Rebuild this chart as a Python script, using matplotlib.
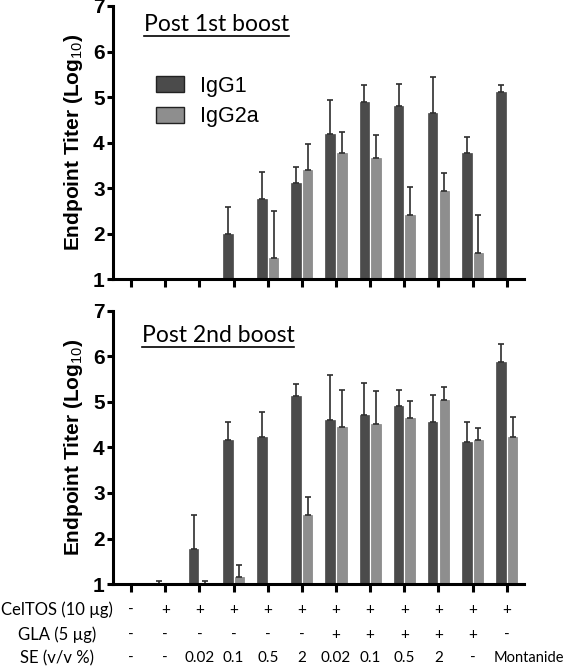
import numpy as np
import matplotlib
matplotlib.use("Agg")
import matplotlib.pyplot as plt
from matplotlib.lines import Line2D

# data (log10 endpoint titer, mean and upper error)
groups = list(range(12))
post1_igg1 = [1, 1, 1, 2.00, 2.76, 3.11, 4.19, 4.90, 4.81, 4.64, 3.78, 5.10]
post1_igg1_err = [0, 0, 0, 0.59, 0.59, 0.36, 0.74, 0.36, 0.47, 0.79, 0.34, 0.16]
post1_igg2a = [1, 1, 1, 1, 1.46, 3.40, 3.76, 3.67, 2.41, 2.94, 1.58, 1]
post1_igg2a_err = [0, 0, 0, 0, 1.04, 0.57, 0.48, 0.49, 0.62, 0.38, 0.83, 0]

post2_igg1 = [1, 1.0, 1.78, 4.17, 4.22, 5.13, 4.60, 4.71, 4.92, 4.55, 4.11, 5.88]
post2_igg1_err = [0, 0.07, 0.74, 0.40, 0.57, 0.26, 1.00, 0.71, 0.35, 0.60, 0.46, 0.40]
post2_igg2a = [1, 1, 1.0, 1.16, 1, 2.52, 4.45, 4.52, 4.64, 5.04, 4.17, 4.24]
post2_igg2a_err = [0, 0, 0.07, 0.26, 0, 0.39, 0.82, 0.73, 0.38, 0.28, 0.26, 0.44]

row_names = ["CelTOS (10 \u00b5g)", "GLA (5 \u00b5g)", "SE (v/v %)"]
celtos = ["-", "+", "+", "+", "+", "+", "+", "+", "+", "+", "+", "+"]
gla = ["-", "-", "-", "-", "-", "-", "+", "+", "+", "+", "+", "-"]
se = ["-", "-", "0.02", "0.1", "0.5", "2", "0.02", "0.1", "0.5", "2", "-", "Montanide"]

DARK = "#4b4b4b"
LIGHT = "#8e8e8e"
W = 0.28
OFF = 0.17

plt.rcParams["mathtext.fontset"] = "custom"
plt.rcParams["mathtext.rm"] = "Liberation Sans"
plt.rcParams["mathtext.bf"] = "Liberation Sans:bold"

fig = plt.figure(figsize=(5.66, 6.66), dpi=100)
ax1 = fig.add_axes([0.1996, 0.581, 0.726, 0.41])
ax2 = fig.add_axes([0.1996, 0.1231, 0.726, 0.41])


def draw_panel(ax, g1, e1, g2, e2):
  x = np.array(groups, dtype=float)
  g1 = np.array(g1); g2 = np.array(g2)
  e1 = np.array(e1); e2 = np.array(e2)
  ax.bar(x - OFF, g1 - 1, W, bottom=1, color=DARK, edgecolor="#333333", linewidth=0.4, label="IgG1")
  ax.bar(x + OFF, g2 - 1, W, bottom=1, color=LIGHT, edgecolor="#6e6e6e", linewidth=0.4, label="IgG2a")
  for xs, m, e in [(x - OFF, g1, e1), (x + OFF, g2, e2)]:
    k = e > 0
    ax.errorbar(xs[k], m[k], yerr=[np.zeros(k.sum()), e[k]], fmt="none",
                ecolor="#2e2e2e", elinewidth=1.2, capsize=2.5, capthick=1.2)
  ax.set_xlim(-0.53, 11.5)
  ax.set_ylim(1, 7)
  ax.set_yticks(range(1, 8))
  ax.set_xticks(groups)
  ax.set_xticklabels([])
  for s in ["top", "right"]:
    ax.spines[s].set_visible(False)
  for s in ["left", "bottom"]:
    ax.spines[s].set_linewidth(2.2)
  ax.tick_params(axis="x", direction="out", length=6, width=2.2)
  ax.tick_params(axis="y", direction="out", length=4, width=2.2, pad=2)
  for t in ax.get_yticklabels():
    t.set_fontfamily("Liberation Sans")
    t.set_fontweight("bold")
    t.set_fontsize(15)
  ax.set_ylabel(r"Endpoint Titer (Log$_{10}$)", fontsize=15, fontweight="bold",
                family="Liberation Sans", labelpad=6)


draw_panel(ax1, post1_igg1, post1_igg1_err, post1_igg2a, post1_igg2a_err)
draw_panel(ax2, post2_igg1, post2_igg1_err, post2_igg2a, post2_igg2a_err)

leg = ax1.legend(loc="upper left", bbox_to_anchor=(0.105, 0.745), frameon=False,
                 prop={"family": "Liberation Sans", "size": 15.5}, handlelength=1.3,
                 handleheight=0.75, handletextpad=0.75, labelspacing=0.45,
                 borderpad=0, borderaxespad=0)
for h in leg.legend_handles:
  h.set_edgecolor("#222222")
  h.set_linewidth(1.0)

t1 = ax1.text(0.075, 0.908, "Post 1st boost", transform=ax1.transAxes,
              family="Lato", fontsize=16.5, va="baseline")
t2 = ax2.text(0.07, 0.886, "Post 2nd boost", transform=ax2.transAxes,
              family="Lato", fontsize=16.5, va="baseline")

# table of formulations under the lower panel
rows = [celtos, gla, se]
row_y = [610, 635, 658]
for name, vals, py in zip(row_names, rows, row_y):
  yf = 1 - py / 666
  fig.text(57 / 566, yf, name, ha="center", va="center", family="Lato", fontsize=12)
  for gx, v in zip(groups, vals):
    xd = ax2.transData.transform((gx, 1))[0] / fig.bbox.width
    if v == "Montanide":
      fig.text(0.997, yf, v, ha="right", va="center", family="Lato", fontsize=10.5)
    else:
      fig.text(xd, yf, v, ha="center", va="center", family="Lato", fontsize=11)

# underline the panel titles
fig.canvas.draw()
r = fig.canvas.get_renderer()
for t in [t1, t2]:
  bb = t.get_window_extent(r)
  yb = bb.y0 - 1
  fig.add_artist(Line2D([bb.x0 / fig.bbox.width, bb.x1 / fig.bbox.width],
                        [yb / fig.bbox.height, yb / fig.bbox.height],
                        color="black", linewidth=1.2))

fig.savefig("out.png", dpi=100)
